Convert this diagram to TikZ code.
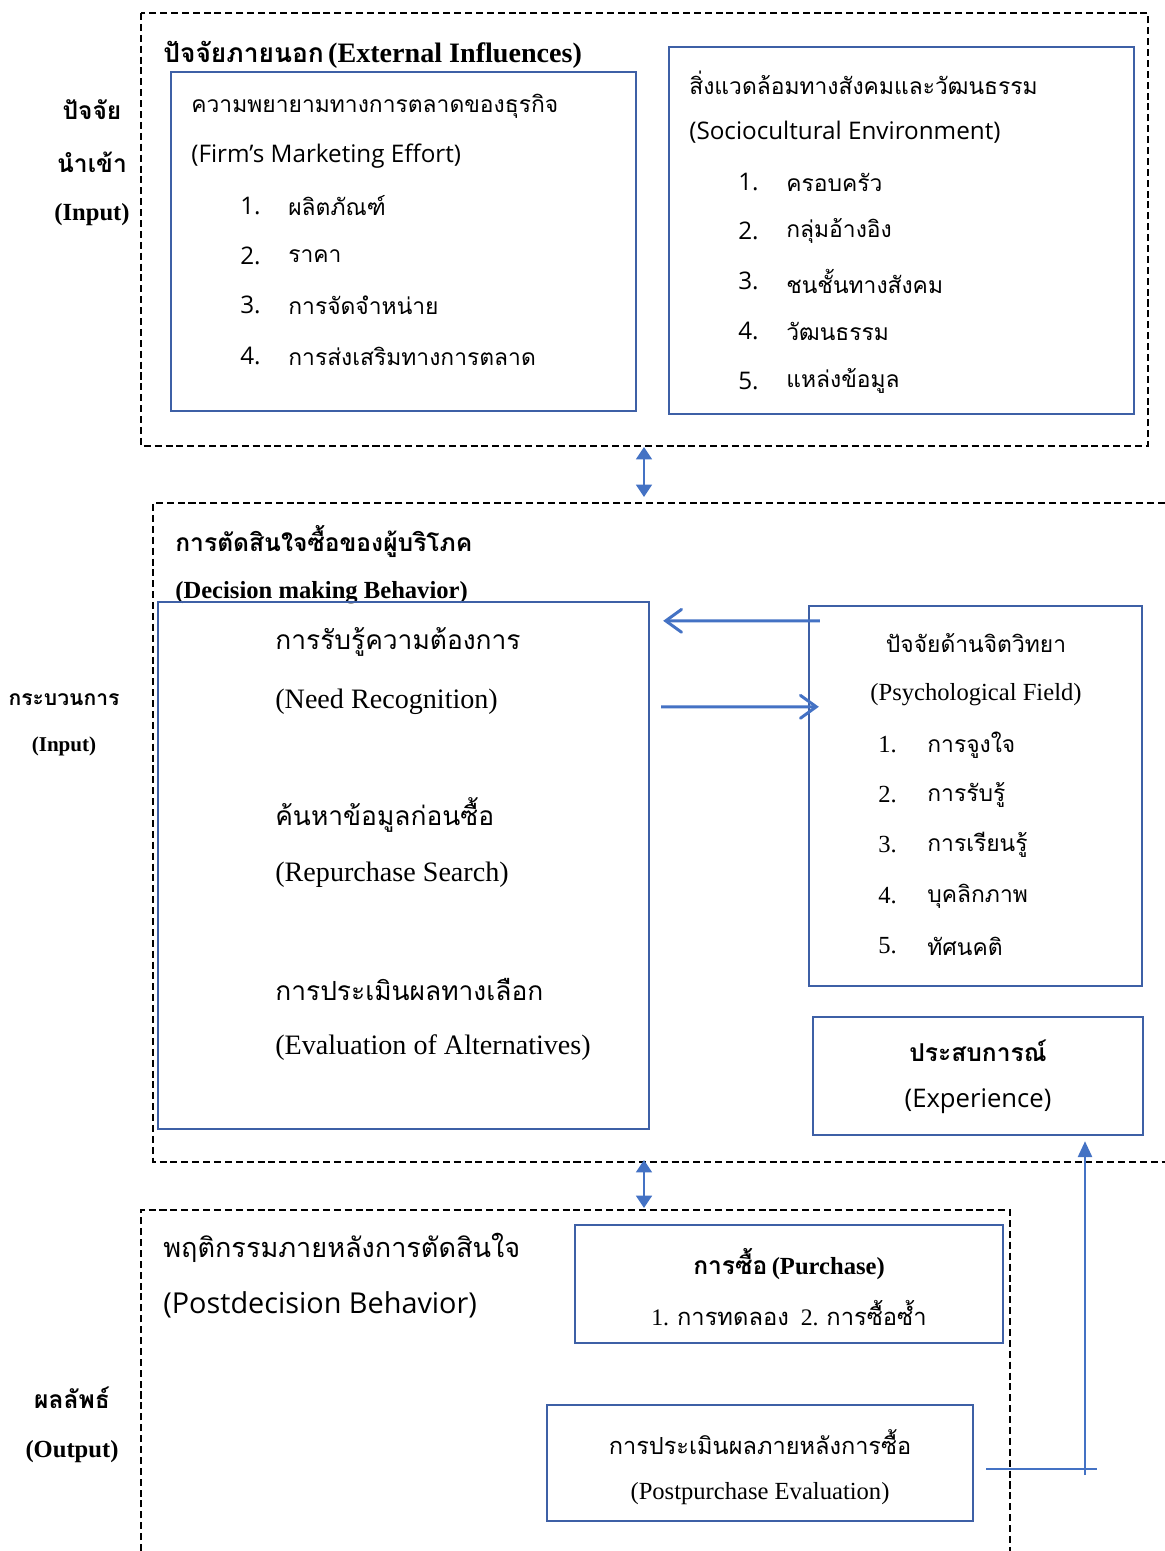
\documentclass[tikz,border=0pt]{standalone}
\usepackage{fontspec}
\setmainfont{Liberation Serif}
\newfontfamily\thfont[Script=Thai]{Loma}
\newfontfamily\opensans{Open Sans}
\usetikzlibrary{arrows.meta}
\definecolor{boxblue}{RGB}{62,96,166}
\definecolor{arrowblue}{RGB}{68,114,196}
\begin{document}
\begin{tikzpicture}[x=0.02cm, y=-0.02cm,
    groupbox/.style={draw, line width=1.1pt, dash pattern=on 4pt off 2.2pt},
    itembox/.style={draw=boxblue, line width=1.4pt, inner sep=0pt},
    txt/.style={anchor=west, inner sep=0pt},
    ctxt/.style={anchor=center, inner sep=0pt},
    thsans/.style={font=\thfont\fontsize{13}{16}\selectfont},
    latsans/.style={font=\opensans\fontsize{13.8}{16}\selectfont},
    thserif/.style={font=\thfont\fontsize{15}{18}\selectfont},
    latserif/.style={font=\fontsize{16}{18}\selectfont},
    side/.style={ctxt, font=\bfseries\fontsize{14}{16}\selectfont},
    dbl/.style={draw=arrowblue, line width=1.2pt, {Triangle[width=9pt,length=7pt]}-{Triangle[width=9pt,length=7pt]}},
    flow/.style={draw=arrowblue, line width=1.7pt, -{Straight Barb[length=9pt,width=13pt,line cap=round]}}]
  \useasboundingbox (0,0) rectangle (1165,1551);

  % input: external influences
  \draw[groupbox] (141,13) rectangle (1148,446);
  \node[txt] (ext-title) at (163,55) {{\thfont\bfseries\fontsize{15}{18}\selectfont ปัจจัยภายนอก} {\bfseries\fontsize{16}{18}\selectfont (External Influences)}};
  \node[itembox, minimum width=9.30cm, minimum height=6.78cm] (firm) at (403.5,241.5) {};
  \node[txt, thsans] (firm-th) at (191,106) {ความพยายามทางการตลาดของธุรกิจ};
  \node[txt, latsans] (firm-en) at (191,156) {(Firm’s Marketing Effort)};
  \node[txt, latsans] (firm-n1) at (240,206) {1.};
  \node[txt, thsans] (firm-i1) at (288,206) {ผลิตภัณฑ์};
  \node[txt, latsans] (firm-n2) at (240,256) {2.};
  \node[txt, thsans] (firm-i2) at (288,256) {ราคา};
  \node[txt, latsans] (firm-n3) at (240,305) {3.};
  \node[txt, thsans] (firm-i3) at (288,305) {การจัดจำหน่าย};
  \node[txt, latsans] (firm-n4) at (240,356) {4.};
  \node[txt, thsans] (firm-i4) at (288,356) {การส่งเสริมทางการตลาด};

  \node[itembox, minimum width=9.30cm, minimum height=7.34cm] (socio) at (901.5,230.5) {};
  \node[txt, thsans] (socio-th) at (689,83) {สิ่งแวดล้อมทางสังคมและวัฒนธรรม};
  \node[txt, latsans] (socio-en) at (689,132) {(Sociocultural Environment)};
  \node[txt, latsans] (socio-n1) at (738,182) {1.};
  \node[txt, thsans] (socio-i1) at (786,182) {ครอบครัว};
  \node[txt, latsans] (socio-n2) at (738,231) {2.};
  \node[txt, thsans] (socio-i2) at (786,231) {กลุ่มอ้างอิง};
  \node[txt, latsans] (socio-n3) at (738,281) {3.};
  \node[txt, thsans] (socio-i3) at (786,281) {ชนชั้นทางสังคม};
  \node[txt, latsans] (socio-n4) at (738,331) {4.};
  \node[txt, thsans] (socio-i4) at (786,331) {วัฒนธรรม};
  \node[txt, latsans] (socio-n5) at (738,381) {5.};
  \node[txt, thsans] (socio-i5) at (786,381) {แหล่งข้อมูล};

  \node[side] (in-1) at (92,110) {\thfont ปัจจัย};
  \node[side] (in-2) at (92,162) {\thfont นำเข้า};
  \node[side] (in-3) at (92,215) {(Input)};

  \coordinate (ext-s) at (644,447);
  \coordinate (dec-n) at (644,497);
  \draw[dbl] (ext-s) -- (dec-n);

  % process: decision making
  \draw[groupbox] (1165,503) -| (153,1162) -- (1165,1162);
  \node[txt] (dec-th) at (175,541) {\thfont\bfseries\fontsize{14}{16}\selectfont การตัดสินใจซื้อของผู้บริโภค};
  \node[txt] (dec-en) at (175,593) {\bfseries\fontsize{14}{16}\selectfont (Decision making Behavior)};
  \node[itembox, minimum width=9.82cm, minimum height=10.54cm] (decide) at (403.5,865.5) {};
  \node[txt, thserif] (need-th) at (275,642) {การรับรู้ความต้องการ};
  \node[txt, latserif] (need-en) at (275,702) {(Need Recognition)};
  \node[txt, thserif] (search-th) at (275,815) {ค้นหาข้อมูลก่อนซื้อ};
  \node[txt, latserif] (search-en) at (275,875) {(Repurchase Search)};
  \node[txt, thserif] (eval-th) at (275,989) {การประเมินผลทางเลือก};
  \node[txt, latserif] (eval-en) at (275,1048) {(Evaluation of Alternatives)};

  \node[itembox, minimum width=6.66cm, minimum height=7.60cm] (psych) at (975.5,796) {};
  \node[ctxt, thsans] (psych-th) at (976,643) {ปัจจัยด้านจิตวิทยา};
  \node[ctxt, font=\fontsize{14}{16}\selectfont] (psych-en) at (976,695) {(Psychological Field)};
  \node[txt, font=\fontsize{14}{16}\selectfont] (psych-n1) at (878,745) {1.};
  \node[txt, thsans] (psych-i1) at (927,745) {การจูงใจ};
  \node[txt, font=\fontsize{14}{16}\selectfont] (psych-n2) at (878,795) {2.};
  \node[txt, thsans] (psych-i2) at (927,795) {การรับรู้};
  \node[txt, font=\fontsize{14}{16}\selectfont] (psych-n3) at (878,845) {3.};
  \node[txt, thsans] (psych-i3) at (927,845) {การเรียนรู้};
  \node[txt, font=\fontsize{14}{16}\selectfont] (psych-n4) at (878,896) {4.};
  \node[txt, thsans] (psych-i4) at (927,896) {บุคลิกภาพ};
  \node[txt, font=\fontsize{14}{16}\selectfont] (psych-n5) at (878,946) {5.};
  \node[txt, thsans] (psych-i5) at (927,946) {ทัศนคติ};

  \node[itembox, minimum width=6.60cm, minimum height=2.36cm] (exper) at (978,1076) {};
  \node[ctxt] (exper-th) at (978,1051) {\thfont\bfseries\fontsize{14}{16}\selectfont ประสบการณ์};
  \node[ctxt, font=\opensans\fontsize{14.6}{16}\selectfont] (exper-en) at (978,1101) {(Experience)};

  \draw[flow] ([xshift=0.24cm,yshift=-0.32cm]psych.north west) -- ([xshift=0.26cm,yshift=-0.40cm]decide.north east);
  \draw[flow] ([xshift=0.22cm,yshift=-2.12cm]decide.north east) -- ([xshift=0.22cm,yshift=-2.04cm]psych.north west);

  \node[ctxt, font=\bfseries\fontsize{12}{14}\selectfont] (proc-1) at (64,700) {\thfont กระบวนการ};
  \node[ctxt, font=\bfseries\fontsize{12}{14}\selectfont] (proc-2) at (64,746) {(Input)};

  \coordinate (dec-s) at (644,1160);
  \coordinate (post-n) at (644,1208);
  \draw[dbl] (dec-s) -- (post-n);

  % output: postdecision behavior
  \draw[groupbox] (141,1551) |- (1010,1210) -- (1010,1551);
  \node[txt, font=\thfont\fontsize{15.4}{18}\selectfont] (post-th) at (163,1248) {พฤติกรรมภายหลังการตัดสินใจ};
  \node[txt, font=\opensans\fontsize{16.4}{18}\selectfont] (post-en) at (163,1305) {(Postdecision Behavior)};

  \node[itembox, minimum width=8.56cm, minimum height=2.36cm] (buy) at (789,1284) {};
  \node[ctxt] (buy-t) at (789,1264) {{\thfont\bfseries\fontsize{14}{16}\selectfont การซื้อ} {\bfseries\fontsize{14}{16}\selectfont (Purchase)}};
  \node[ctxt] (buy-i) at (789,1313) {\fontsize{13.5}{16}\selectfont 1. {\thfont การทดลอง}\ \ 2. {\thfont การซื้อซ้ำ}};

  \node[itembox, minimum width=8.52cm, minimum height=2.32cm] (after) at (760,1463) {};
  \node[ctxt, font=\thfont\fontsize{13.4}{16}\selectfont] (after-th) at (760,1442) {การประเมินผลภายหลังการซื้อ};
  \node[ctxt, font=\fontsize{14}{16}\selectfont] (after-en) at (760,1494) {(Postpurchase Evaluation)};

  \coordinate (fb-a) at (986,1469);
  \coordinate (fb-b) at (1097,1469);
  \coordinate (fb-c) at (1085,1475);
  \draw[draw=arrowblue, line width=1.2pt] (fb-a) -- (fb-b);
  \draw[draw=arrowblue, line width=1.2pt, -{Triangle[width=8pt,length=9pt]}, shorten >=0.1cm] (fb-c) -- (exper.south -| fb-c);

  \node[side] (out-1) at (72,1398) {\thfont ผลลัพธ์};
  \node[side] (out-2) at (72,1452) {(Output)};
\end{tikzpicture}
\end{document}
